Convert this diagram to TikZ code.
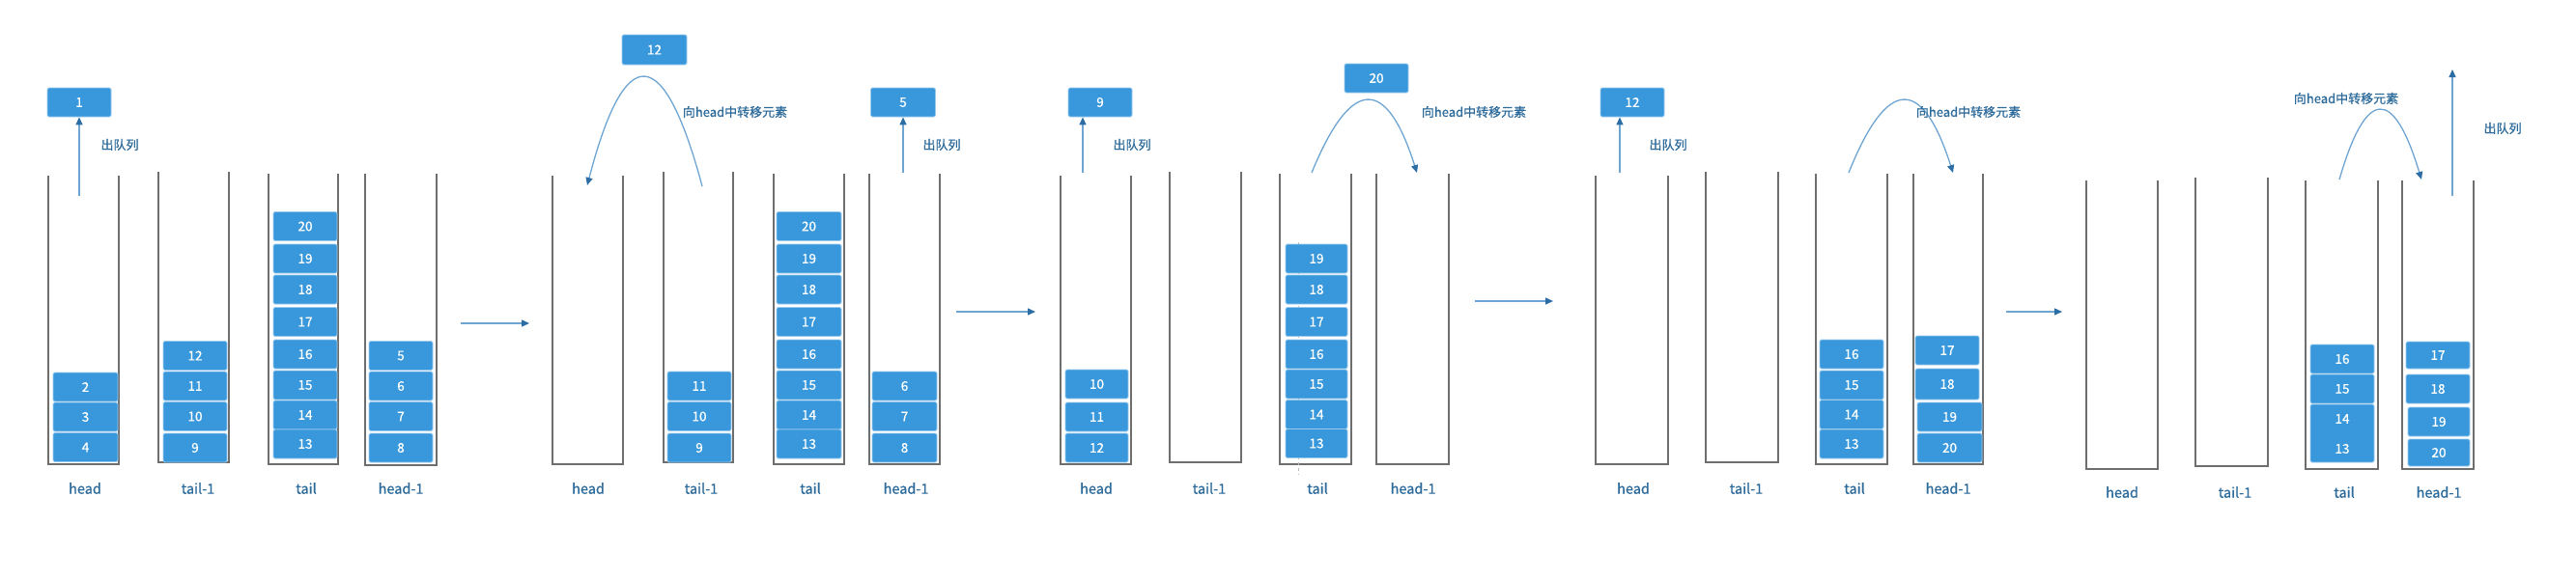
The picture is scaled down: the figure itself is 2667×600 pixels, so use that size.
\documentclass[tikz,border=0pt]{standalone}
\usepackage{fontspec}
\setmainfont{Noto Sans CJK SC}[FakeBold=0.7]
\usetikzlibrary{arrows.meta}
\definecolor{boxblue}{HTML}{3898DB}
\definecolor{boxedge}{HTML}{9CCAEC}
\definecolor{labelblue}{HTML}{2D6B9B}
\definecolor{arrowline}{HTML}{6FA5D2}
\definecolor{arrowhead}{HTML}{2C6DA4}
\definecolor{wallgray}{HTML}{6E6E6E}
\begin{document}
\begin{tikzpicture}[x=1pt,y=-1pt,
  cell/.style={fill=boxblue, draw=boxedge, line width=0.8pt, rounded corners=1.5pt,
    minimum width=66pt, minimum height=30pt, inner sep=0pt, text=white,
    font=\fontsize{13.5}{13.5}\selectfont},
  celltext/.style={inner sep=0pt, text=white, font=\fontsize{13.5}{13.5}\selectfont},
  lab/.style={text=labelblue, font=\fontsize{14.5}{14.5}\selectfont, inner sep=0pt},
  note/.style={text=labelblue, font=\fontsize{13}{13}\selectfont, inner sep=0pt},
  wall/.style={draw=wallgray, line width=2pt},
  arr/.style={draw=arrowline, line width=1.3pt,
    -{Triangle[length=8pt,width=7pt,color=arrowhead]}},
]
\useasboundingbox[fill=white] (0,0) rectangle (2667,600);

% ================= Panel 1 =================
\draw[wall] (50,182) -- (50,481) -- (123,481) -- (123,182);
\draw[wall] (164,178) -- (164,479) -- (237,479) -- (237,178);
\draw[wall] (278,180) -- (278,481) -- (350,481) -- (350,180);
\draw[wall] (378,180) -- (378,482) -- (452,482) -- (452,180);
\node[lab] (l1a) at (88,506) {head};
\node[lab] (l1b) at (205,506) {tail-1};
\node[lab] (l1c) at (317,506) {tail};
\node[lab] (l1d) at (415,506) {head-1};
\foreach \t/\y in {2/401,3/432,4/463.5}
  \node[cell, minimum width=67pt] (p1h\t) at (88.5,\y) {\t};
\foreach \t/\y in {12/368.5,11/400,10/431.5,9/464}
  \node[cell] (p1a\t) at (202,\y) {\t};
\foreach \t/\y in {20/234.5,19/268,18/300,17/333.5,16/367,15/399,14/430,13/460}
  \node[cell] (p1t\t) at (316,\y) {\t};
\foreach \t/\y in {5/368.5,6/400,7/431.5,8/464}
  \node[cell] (p1b\t) at (415,\y) {\t};
\node[cell] (b1) at (82,106) {1};
\coordinate (s1) at (82,203);
\draw[arr] (s1) -- (b1.south);
\node[note] (q1) at (124,150) {出队列};

\coordinate (t1s) at (477,335);
\coordinate (t1e) at (548,335);
\draw[arr] (t1s) -- (t1e);

% ================= Panel 2 =================
\draw[wall] (572,182) -- (572,481) -- (645,481) -- (645,182);
\draw[wall] (687,178) -- (687,479) -- (759,479) -- (759,178);
\draw[wall] (801,180) -- (801,481) -- (874,481) -- (874,180);
\draw[wall] (900,180) -- (900,481) -- (973,481) -- (973,180);
\node[lab] (l2a) at (609,506) {head};
\node[lab] (l2b) at (726,506) {tail-1};
\node[lab] (l2c) at (839,506) {tail};
\node[lab] (l2d) at (938,506) {head-1};
\foreach \t/\y in {11/400,10/431.5,9/464}
  \node[cell] (p2a\t) at (724,\y) {\t};
\foreach \t/\y in {20/234.5,19/268,18/300,17/333.5,16/367,15/399,14/430,13/460}
  \node[cell, minimum width=67pt] (p2t\t) at (837.5,\y) {\t};
\foreach \t/\y in {6/400,7/431.5,8/464}
  \node[cell, minimum width=67pt] (p2b\t) at (936.5,\y) {\t};
\node[cell, minimum width=67pt, minimum height=31pt] (b12) at (677.5,51.5) {12};
\coordinate (c2s) at (727,193);
\coordinate (c2e) at (608,192);
\draw[arr] (c2s) .. controls (686.7,42.7) and (647,42.3) .. (c2e);
\node[note] (n2) at (761,116) {向head中转移元素};
\node[cell, minimum width=67pt] (b5) at (935,106) {5};
\coordinate (s2) at (935,179);
\draw[arr] (s2) -- (b5.south);
\node[note] (q2) at (975,150) {出队列};

\coordinate (t2s) at (990,323);
\coordinate (t2e) at (1072,323);
\draw[arr] (t2s) -- (t2e);

% ================= Panel 3 =================
\draw[wall] (1098,182) -- (1098,481) -- (1171,481) -- (1171,182);
\draw[wall] (1211,178) -- (1211,479) -- (1285,479) -- (1285,178);
\draw[wall] (1325,180) -- (1325,481) -- (1399,481) -- (1399,180);
\draw[wall] (1425,180) -- (1425,481) -- (1500,481) -- (1500,180);
\node[lab] (l3a) at (1135,506) {head};
\node[lab] (l3b) at (1252,506) {tail-1};
\node[lab] (l3c) at (1364,506) {tail};
\node[lab] (l3d) at (1463,506) {head-1};
\draw[gray!55, line width=0.5pt, dash pattern=on 3pt off 3pt] (1344,251) -- (1344,492);
\foreach \t/\y in {10/398,11/432,12/464}
  \node[cell, minimum width=65pt] (p3h\t) at (1135.5,\y) {\t};
\foreach \t/\y in {19/268,18/300,17/333.5,16/367,15/398,14/429.5,13/459.5}
  \node[cell, minimum width=64pt] (p3t\t) at (1363,\y) {\t};
\node[cell] (b9) at (1139,106) {9};
\coordinate (s3) at (1121,179);
\draw[arr] (s3) -- (s3 |- b9.south);
\node[note] (q3) at (1172,150) {出队列};
\node[cell] (b20) at (1425,81) {20};
\coordinate (c3s) at (1358,179);
\coordinate (c3e) at (1467,179);
\draw[arr] (c3s) .. controls (1399,79) and (1435.3,79) .. (c3e);
\node[note] (n3) at (1526,116) {向head中转移元素};

\coordinate (t3s) at (1527,312);
\coordinate (t3e) at (1608,312);
\draw[arr] (t3s) -- (t3e);

% ================= Panel 4 =================
\draw[wall] (1652,182) -- (1652,481) -- (1727,481) -- (1727,182);
\draw[wall] (1766,178) -- (1766,479) -- (1841,479) -- (1841,178);
\draw[wall] (1880,180) -- (1880,481) -- (1954,481) -- (1954,180);
\draw[wall] (1981,180) -- (1981,481) -- (2053,481) -- (2053,180);
\node[lab] (l4a) at (1691,506) {head};
\node[lab] (l4b) at (1808,506) {tail-1};
\node[lab] (l4c) at (1920,506) {tail};
\node[lab] (l4d) at (2017,506) {head-1};
\foreach \t/\y in {16/367,15/399,14/429.5,13/460}
  \node[cell] (p4t\t) at (1917,\y) {\t};
\node[cell] (p4b17) at (2016,363) {17};
\node[cell, minimum height=32pt] (p4b18) at (2016,398) {18};
\node[cell, minimum width=67pt] (p4b19) at (2018.5,432) {19};
\node[cell, minimum width=67pt] (p4b20) at (2018.5,464) {20};
\node[cell] (b12b) at (1690,106) {12};
\coordinate (s4) at (1677,179);
\draw[arr] (s4) -- (s4 |- b12b.south);
\node[note] (q4) at (1727,150) {出队列};
\coordinate (c4s) at (1914,179);
\coordinate (c4e) at (2022,179);
\draw[arr] (c4s) .. controls (1954,79) and (1990,79) .. (c4e);
\node[note] (n4) at (2038,116) {向head中转移元素};

\coordinate (t4s) at (2077,323);
\coordinate (t4e) at (2135,323);
\draw[arr] (t4s) -- (t4e);

% ================= Panel 5 =================
\draw[wall] (2160,187) -- (2160,486) -- (2234,486) -- (2234,187);
\draw[wall] (2273,184) -- (2273,483) -- (2348,483) -- (2348,184);
\draw[wall] (2387,187) -- (2387,486) -- (2462,486) -- (2462,187);
\draw[wall] (2487,187) -- (2487,486) -- (2561,486) -- (2561,187);
\node[lab] (l5a) at (2197,510) {head};
\node[lab] (l5b) at (2314,510) {tail-1};
\node[lab] (l5c) at (2427,510) {tail};
\node[lab] (l5d) at (2525,510) {head-1};
\node[cell] (p5t16) at (2425,372) {16};
\node[cell] (p5t15) at (2425,403) {15};
\node[cell, minimum height=60pt] (p5t1413) at (2425,449) {};
\node[celltext] (p5t14) at (2425,434) {14};
\node[celltext] (p5t13) at (2425,465) {13};
\node[cell, minimum height=28pt] (p5b17) at (2524,368) {17};
\node[cell] (p5b18) at (2524,403) {18};
\node[cell, minimum width=64pt] (p5b19) at (2525,437) {19};
\node[cell, minimum width=64pt, minimum height=28pt] (p5b20) at (2525,469) {20};
\coordinate (c5s) at (2422,186);
\coordinate (c5e) at (2507,186);
\draw[arr] (c5s) .. controls (2449.7,90) and (2478,90) .. (c5e);
\node[note] (n5) at (2429,102) {向head中转移元素};
\coordinate (s5) at (2539,203);
\coordinate (e5) at (2539,72);
\draw[arr] (s5) -- (e5);
\node[note] (q5) at (2591,133) {出队列};
\end{tikzpicture}
\end{document}
